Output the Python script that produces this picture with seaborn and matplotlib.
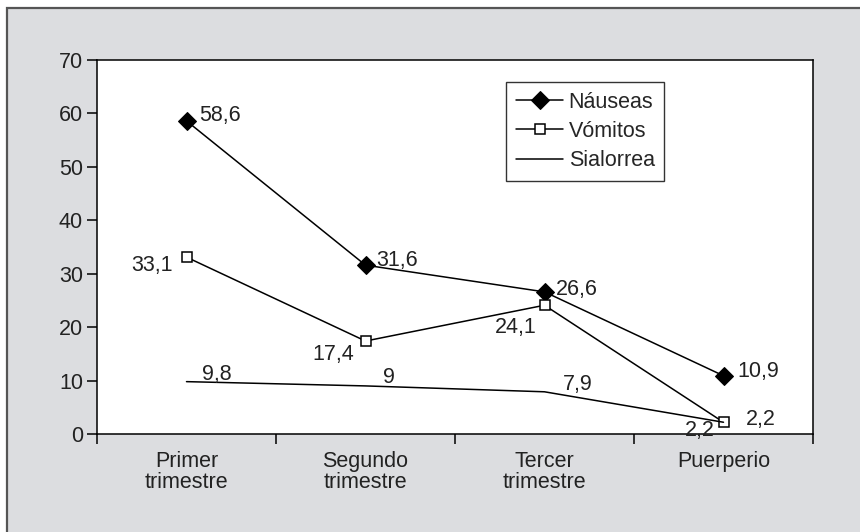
import matplotlib
matplotlib.use("Agg")
import matplotlib.pyplot as plt
import seaborn as sns
from matplotlib.patches import Rectangle
from matplotlib.ticker import FixedLocator, NullFormatter

# data
categorias = ["Primer\ntrimestre", "Segundo\ntrimestre", "Tercer\ntrimestre", "Puerperio"]
nauseas = [58.6, 31.6, 26.6, 10.9]
vomitos = [33.1, 17.4, 24.1, 2.2]
sialorrea = [9.8, 9.0, 7.9, 2.2]

# label offsets in points (dx, dy, ha)
off_nauseas = [(9, 4, "left"), (8, 3, "left"), (8, 2, "left"), (10, 3, "left")]
off_vomitos = [(-10, -6, "right"), (-8, -10, "right"), (-6, -16, "right"), (16, 2, "left")]
off_sialorrea = [(22, 5, "center"), (17, 6, "center"), (24, 5, "center"), (-17, -6, "center")]

FS = 15.5

sns.set_style("white")
plt.rcParams["font.family"] = ["Liberation Sans", "DejaVu Sans"]
plt.rcParams["font.size"] = FS

fig = plt.figure(figsize=(8.6, 5.32), dpi=100, facecolor="white")
bg = Rectangle((7 / 860, -0.01), 1, 1 - 8 / 532 + 0.01, transform=fig.transFigure,
               facecolor="#dcdde0", edgecolor="#555555", linewidth=1.6, zorder=-5)
fig.patches.append(bg)
ax = fig.add_axes([97 / 860, 1 - 434 / 532, 716 / 860, 374 / 532])
ax.set_zorder(5)
ax.set_facecolor("white")

x = list(range(len(categorias)))

sns.lineplot(x=x, y=nauseas, ax=ax, color="black", linewidth=1.1, marker="D",
             markersize=9, markerfacecolor="black", markeredgecolor="black",
             label="Náuseas")
sns.lineplot(x=x, y=vomitos, ax=ax, color="black", linewidth=1.1, marker="s",
             markersize=7, markerfacecolor="white", markeredgecolor="black",
             markeredgewidth=1.1, label="Vómitos")
sns.lineplot(x=x, y=sialorrea, ax=ax, color="black", linewidth=1.1,
             label="Sialorrea")


def fmt(v):
    return ("%g" % v).replace(".", ",")


for vals, offs in [(nauseas, off_nauseas), (vomitos, off_vomitos), (sialorrea, off_sialorrea)]:
    for xi, v, (dx, dy, ha) in zip(x, vals, offs):
        ax.annotate(fmt(v), (xi, v), xytext=(dx, dy), textcoords="offset points",
                    ha=ha, va="center", fontsize=FS, color="#222222")

ax.set_xlim(-0.5, 3.5)
ax.set_ylim(0, 70)
ax.set_yticks(range(0, 71, 10))
ax.set_xticks(x)
ax.set_xticklabels(categorias, linespacing=0.95)
ax.xaxis.set_minor_locator(FixedLocator([-0.5, 0.5, 1.5, 2.5, 3.5]))
ax.xaxis.set_minor_formatter(NullFormatter())
ax.tick_params(axis="x", which="major", bottom=True, length=0, pad=12.5,
               labelsize=FS, labelcolor="#222222")
ax.tick_params(axis="x", which="minor", bottom=True, length=7, width=1.1,
               direction="out", color="black")
ax.tick_params(axis="y", left=True, length=7, width=1.1, direction="out", color="black",
               labelsize=FS, labelcolor="#222222", pad=3)
for s in ax.spines.values():
    s.set_visible(True)
    s.set_color("black")
    s.set_linewidth(1.1)

leg = ax.legend(loc="upper center", bbox_to_anchor=(0.682, 0.941), borderaxespad=0,
                frameon=True, fancybox=False, edgecolor="black", fontsize=FS,
                handlelength=2.2, handletextpad=0.25, borderpad=0.45, labelspacing=0.38)
leg.get_frame().set_linewidth(1.0)

fig.savefig("out.png", dpi=100, facecolor=fig.get_facecolor())
